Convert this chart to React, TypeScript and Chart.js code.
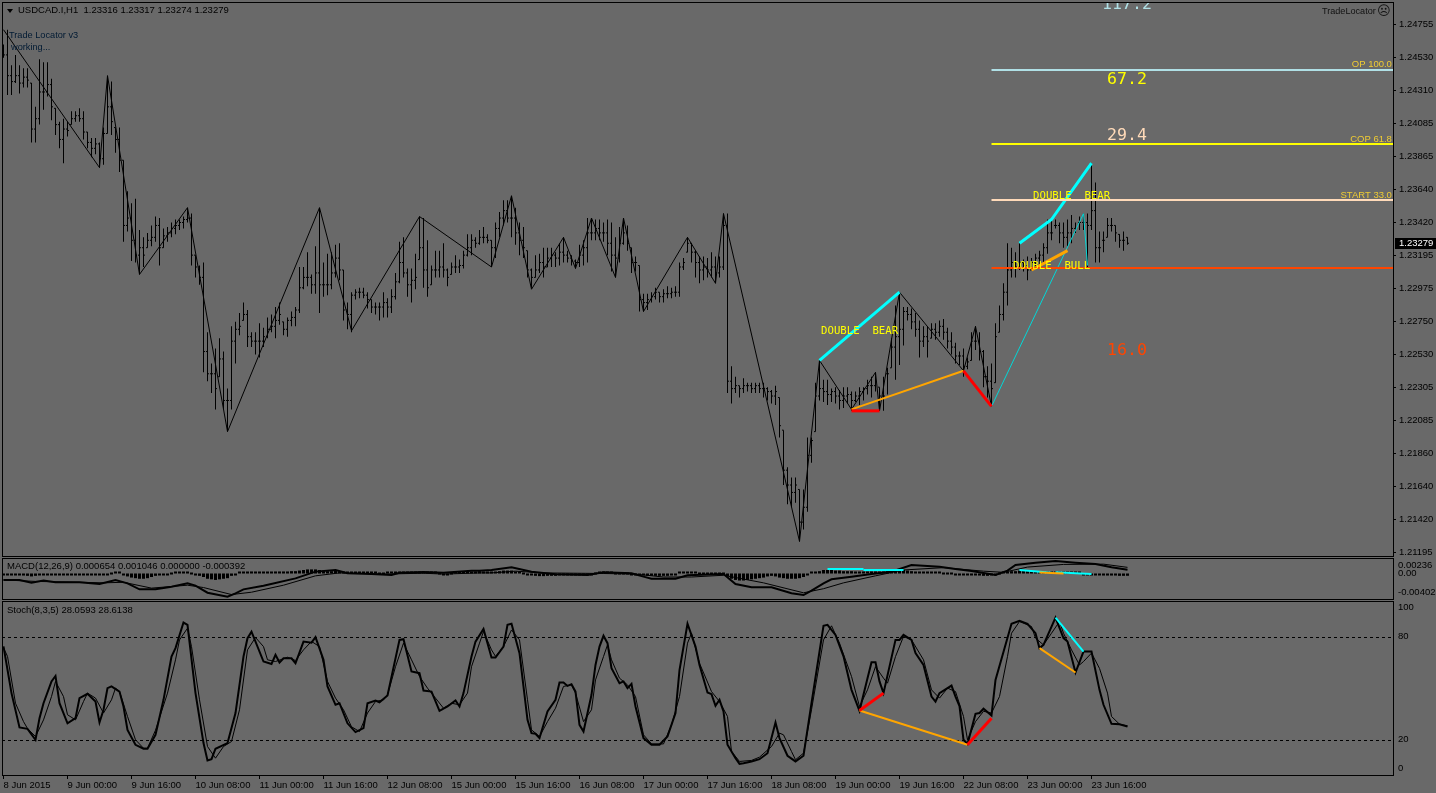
import React, { useEffect, useRef } from "react";
import { Chart, registerables } from "chart.js";

Chart.register(...registerables);

// ---------- price bars (values in pips above 1.2000) ----------
const barHigh = [
  462,472,448,455,448,446,446,436,420,452,
  450,450,439,419,410,412,410,417,417,419,
  417,403,399,399,396,406,441,437,406,406,
  384,363,355,358,337,332,335,340,346,345,
  338,339,342,344,344,346,352,348,320,313,
  315,268,247,257,264,255,230,272,275,281,
  288,283,268,268,274,271,278,280,285,288,
  275,278,282,285,312,312,322,307,326,352,
  315,321,322,327,328,310,288,295,297,298,
  298,295,290,288,288,295,291,297,308,329,
  332,311,311,321,346,345,330,313,323,323,
  328,311,315,320,317,323,334,334,332,337,
  339,334,330,342,349,357,357,360,352,342,
  339,323,311,320,321,325,325,325,322,328,
  332,323,320,317,327,330,345,345,344,344,
  342,344,342,332,339,345,340,325,319,313,
  294,294,295,298,295,297,299,298,299,315,
  318,332,328,323,319,319,318,322,319,319,
  348,348,245,238,232,237,234,234,234,234,
  234,231,229,232,224,202,177,170,170,162,
  162,197,197,234,249,236,236,230,231,229,
  231,231,228,228,231,231,236,238,241,231,
  238,244,264,286,295,285,285,284,281,276,
  272,272,274,274,276,277,271,268,261,255,
  257,251,268,272,268,256,245,247,274,286,
  301,328,325,322,328,317,319,318,321,323,
  328,344,344,344,342,342,344,347,342,346,
  348,348,382,369,336,336,345,345,340,334,336,332,
];
const barLow = [
  453,428,428,436,429,433,433,396,396,408,
  418,427,411,401,392,382,400,408,410,410,
  398,392,386,388,379,381,402,401,389,376,
  329,336,316,315,307,312,325,326,329,313,
  325,329,332,334,337,338,342,313,305,300,
  241,235,227,216,238,216,201,216,247,266,
  276,258,258,253,251,258,264,268,264,273,
  266,265,272,272,281,297,299,294,294,281,
  292,293,297,305,303,276,270,268,290,291,
  291,284,281,280,276,278,278,281,290,301,
  305,292,288,297,317,298,292,300,305,305,
  305,299,307,308,308,311,319,320,325,327,
  328,328,312,318,332,340,342,332,327,320,
  318,305,298,305,308,305,312,312,312,313,
  315,315,313,311,312,313,315,330,330,330,
  329,320,309,305,315,327,323,308,309,282,
  282,283,288,290,288,288,291,291,292,292,
  310,322,315,305,301,303,305,305,301,305,
  310,227,220,227,224,227,228,227,227,227,
  224,222,220,219,197,165,152,150,153,127,
  135,147,180,201,222,221,219,221,220,216,
  217,220,215,221,219,222,226,224,228,215,
  215,226,244,236,246,259,276,270,265,251,
  258,251,264,263,265,263,257,253,247,246,
  238,243,249,256,249,231,224,218,234,268,
  276,286,305,305,310,309,303,310,312,312,
  315,321,330,338,328,325,326,328,335,337,
  337,312,337,315,315,322,332,336,329,325,323,327,
];
const barOpen = [
  458,455,441,437,441,436,440,436,405,412,
  430,430,435,419,408,398,405,408,412,414,
  412,403,396,392,395,385,402,420,406,398,
  384,340,345,330,320,325,325,330,332,340,
  325,333,335,338,340,342,344,345,320,312,
  305,255,240,240,238,250,222,222,262,270,
  276,280,265,262,262,262,265,270,272,276,
  275,270,276,278,283,298,305,305,300,308,
  300,300,300,308,318,310,283,280,293,295,
  295,293,290,285,285,285,288,285,292,302,
  315,308,300,303,317,325,310,300,310,310,
  312,310,307,312,312,313,320,325,330,328,
  332,332,330,325,338,345,350,345,345,335,
  330,323,310,305,310,315,312,318,320,318,
  322,320,318,316,315,320,325,335,335,338,
  335,335,328,320,318,328,335,325,315,313,
  290,288,290,292,295,292,294,294,295,295,
  312,322,328,322,315,310,312,310,312,308,
  312,340,235,230,232,230,232,232,230,232,
  230,230,228,225,224,202,175,165,160,162,
  140,150,185,201,225,230,228,226,228,225,
  222,225,226,222,225,228,230,232,232,231,
  225,240,244,258,265,270,282,280,275,270,
  262,265,264,270,268,272,268,262,258,252,
  252,245,249,262,262,255,238,235,234,268,
  280,295,310,315,312,315,313,310,315,318,
  320,325,335,340,340,335,332,335,338,342,
  342,342,340,350,325,330,332,340,340,334,330,332,
];
const barClose = [
  455,441,437,441,436,440,438,405,412,430,
  430,435,420,408,398,405,404,412,414,412,
  403,396,392,395,385,402,420,410,398,384,
  340,345,330,320,325,320,330,332,340,325,
  333,335,338,340,342,344,345,320,312,305,
  255,240,240,230,250,222,222,262,270,272,
  280,265,262,262,262,265,270,272,276,280,
  270,276,278,283,298,305,305,300,308,300,
  300,300,308,318,310,283,280,293,295,295,
  293,290,285,285,285,288,285,292,302,315,
  308,300,303,305,325,310,298,310,310,312,
  310,305,312,312,313,320,325,330,328,332,
  332,330,325,338,345,350,345,345,335,330,
  325,310,305,310,315,312,318,320,318,322,
  320,318,316,315,320,325,335,335,338,335,
  335,328,320,318,328,335,328,315,315,290,
  288,290,292,295,292,294,294,295,295,312,
  315,328,322,315,310,312,310,312,308,312,
  340,235,230,232,230,232,232,230,232,230,
  230,228,225,228,205,175,165,160,165,140,
  150,185,195,225,230,228,226,228,225,222,
  225,226,222,225,228,230,232,232,235,225,
  225,240,258,265,270,282,280,275,270,262,
  265,262,270,268,272,268,262,258,252,252,
  245,248,262,262,255,238,235,230,265,280,
  295,310,315,312,315,313,310,315,318,320,
  325,335,335,340,335,332,335,338,338,342,
  342,340,350,325,325,330,340,340,335,330,330,328,
];

// ---------- zigzag and pattern lines (bar index / pips above 1.2000) ----------
const zigzagBars = [0,24,26,34,46,56,79,87,104,122,127,132,140,143,147,153,155,160,171,178,180,199,204,212,218,219,224,240,243,247];
const zigzagPips = [472,379,441,307,352,201,352,269,346,312,360,297,332,311,345,305,345,282,332,301,348,127,249,216,241,215,295,242,272,218];
const thinCyanBars = [247,270,271];
const thinCyanPips = [218,348,313];
const bearBars1 = [204,224];
const bearPips1 = [249,295];
const bearBars2 = [254,262,272];
const bearPips2 = [328,344,382];
const redBars1 = [212,219];
const redPips1 = [215,215];
const redBars2 = [240,247];
const redPips2 = [242,218];
const orangeBars1 = [212,240];
const orangePips1 = [216,242];
const orangeBars2 = [257,266];
const orangePips2 = [310,323];

// horizontal levels (prices)
const levelStartBar = 247;
const levelOp = 1.24448;
const levelCop = 1.23949;
const levelStart = 1.23572;
const levelStop = 1.23113;
const lastClose = 1.23279;

// ---------- MACD (values in thousandths) ----------
const macdBars = [0,4,7,10,13,19,24,28,31,34,38,42,46,48,51,56,58,60,65,73,78,83,86,92,97,99,105,110,117,119,122,127,132,138,146,150,157,160,162,168,171,180,183,187,192,197,200,202,205,207,212,217,222,227,234,238,242,248,251,253,258,263,268,273,277,281];
const macdMain = [-1.11,-1.11,-1.57,-1.22,-1.51,-1.51,-1.79,-1.11,-1.68,-2.71,-2.71,-2.25,-1.68,-2.08,-3.28,-3.96,-3.39,-2.71,-2.08,-0.83,0.32,0.6,0.03,-0.08,-0.26,0.14,0.26,0.14,0.49,0.49,0.6,1.06,0.31,-0.14,-0.26,0.2,0.03,-0.54,-0.88,-0.88,-0.31,-0.08,-1.79,-2.36,-2.36,-3.39,-3.68,-2.93,-1.68,-0.99,-0.54,-0.08,0.31,1.46,1.17,0.77,0.43,-0.26,0.49,1.46,1.85,2.14,1.85,1.63,1.06,0.65];
const signalBars = [0,8,19,25,30,37,46,50,57,62,70,78,84,95,105,110,119,122,128,135,150,158,165,172,180,190,200,205,210,218,225,235,245,250,256,265,275,281];
const macdSignal = [-1.1,-1.35,-1.5,-1.6,-1.5,-2.5,-2.0,-2.4,-3.6,-3.2,-2.0,-0.4,0.1,-0.1,0.05,-0.1,0.1,0.1,0.4,0.1,0,-0.1,-0.6,-0.6,-0.3,-1.6,-3.3,-2.6,-1.6,-0.4,0.6,1.0,0.4,0.2,1.1,1.55,1.6,1.05];
const macdHist = [
  -0.25,-0.25,-0.3,-0.3,-0.3,-0.35,-0.4,-0.5,-0.4,-0.3,
  -0.2,-0.25,-0.3,-0.3,-0.25,-0.2,-0.2,-0.2,-0.2,-0.2,
  -0.15,-0.15,-0.2,-0.2,-0.25,-0.15,-0.05,0,0.1,0.05,
  -0.2,-0.5,-0.7,-0.8,-0.9,-0.9,-0.8,-0.6,-0.4,-0.2,
  -0.2,-0.1,0,0.05,0.1,0.1,0.05,0,-0.1,-0.4,
  -0.6,-0.9,-1.0,-1.1,-1.0,-0.9,-0.8,-0.4,-0.1,0.1,
  0.3,0.3,0.35,0.3,0.3,0.3,0.3,0.3,0.35,0.35,
  0.35,0.35,0.4,0.4,0.5,0.6,0.7,0.7,0.7,0.6,
  0.5,0.4,0.4,0.5,0.4,0.2,0.1,0.05,0.1,0.1,
  0.1,0.05,0.05,0.05,0,0,0.05,0.05,0.1,0.2,
  0.3,0.25,0.2,0.2,0.3,0.3,0.2,0.1,0.05,0,
  -0.05,-0.05,0,0.05,0.05,0.15,0.25,0.3,0.35,0.4,
  0.35,0.3,0.3,0.3,0.4,0.5,0.5,0.5,0.3,0.1,
  0,-0.15,-0.3,-0.4,-0.45,-0.45,-0.4,-0.4,-0.4,-0.3,
  -0.3,-0.2,-0.2,-0.2,-0.2,-0.2,-0.2,-0.1,0,0.05,
  0.1,0.1,0.05,0,0,0,0,-0.05,-0.1,-0.2,
  -0.3,-0.4,-0.4,-0.4,-0.4,-0.4,-0.4,-0.3,-0.1,0.05,
  0.15,0.2,0.15,0.05,0,0,0,0,0,0,
  0,-0.5,-0.9,-1.1,-1.2,-1.2,-1.1,-1.0,-0.9,-0.8,
  -0.7,-0.5,-0.4,-0.5,-0.7,-0.8,-0.9,-0.9,-0.9,-0.8,
  -0.6,-0.2,0.1,0.3,0.4,0.6,0.6,0.6,0.5,0.5,
  0.4,0.4,0.4,0.3,0.3,0.3,0.3,0.35,0.35,0.3,
  0.3,0.4,0.5,0.5,0.6,0.6,0.5,0.4,0.3,0.3,
  0.2,0.1,0.1,0.05,0.05,0,0,0,-0.05,-0.1,
  -0.15,-0.25,-0.3,-0.3,-0.35,-0.4,-0.4,-0.3,-0.1,0,
  0.2,0.3,0.4,0.4,0.5,0.5,0.45,0.4,0.4,0.3,
  0.3,0.25,0.25,0.25,0.2,0.1,0.05,0.05,0.05,0.02,
  -0.02,-0.05,-0.1,-0.2,-0.3,-0.35,-0.35,-0.35,-0.35,-0.4,-0.4,-0.39,
];
const macdCyanBars1 = [206,215];
const macdCyanVals1 = [0.77,0.77];
const macdCyanBars2 = [215,225];
const macdCyanVals2 = [0.6,0.6];
const macdCyanBars3 = [254,262];
const macdCyanVals3 = [0.6,0.14];
const macdOrangeBars = [259,265];
const macdOrangeVals = [0.15,0];
const macdCyanBars4 = [263,272];
const macdCyanVals4 = [0.2,-0.1];

// ---------- Stochastic ----------
const stochKBars = [0,2,4,6,8,9,10,12,13,14,16,18,19,21,23,24,25,26,27,29,30,31,33,35,36,38,40,42,43,45,46,48,50,51,52,53,56,58,60,61,62,65,67,68,69,70,72,73,75,77,78,80,81,83,84,86,88,90,91,93,94,96,99,100,102,104,105,107,109,111,113,114,115,117,118,120,122,123,125,126,127,129,131,132,133,134,136,138,139,140,141,142,143,144,145,147,148,149,150,151,152,154,155,156,157,158,160,162,164,166,168,169,171,173,174,176,177,178,179,180,181,183,184,185,187,189,191,193,194,196,198,200,202,205,206,208,210,212,214,216,217,218,219,220,223,224,225,227,228,230,232,233,234,237,238,239,240,241,243,244,245,247,248,252,254,256,258,259,260,263,265,266,268,270,272,274,275,277,279,281];
const stochK = [74.8,47.6,27.6,26.8,20.4,33,41.7,54.4,57.6,41.7,30,33,44.7,47.2,42.7,30.5,37.9,50.5,51.5,48.5,39.8,26.2,17.5,15.2,15.2,23.3,43.7,68.9,73.8,88.7,87.4,47.6,18.5,8.4,9.1,15.2,18.5,36,68.9,79.6,83.4,66,64.6,69.9,65.4,67.9,67.9,65,77.6,77,80.2,67,51.5,40.8,41.7,30,24.9,27.2,41.7,43.3,42.3,46.2,78.6,79,60.2,59.2,49.1,48.5,37.3,39.8,43.3,39.8,47.6,68.9,77.6,85,68.3,68.3,74.7,87.4,88,70.9,32,24.3,23.9,21.4,36.9,43.7,53.8,53.8,51.8,52.8,48.5,29.1,25.2,46.6,64,74.7,81,76.7,62.1,53.4,54.4,50.5,53,39.8,21.4,17.5,17.5,22.4,36,61,88,74.7,64,48,47,40.2,43.7,36.9,17.5,9.7,6.4,6.8,7.8,9.1,12.6,30.5,21.4,11.1,7.8,11.1,41.7,86.8,87.4,81.5,69,49.5,37.3,56.3,65.6,65.6,54.4,47.6,78.6,78.6,81.5,78.6,70.9,64,45.6,42.7,47.6,52,45.6,40,20.4,18,35.5,36,38.5,34.6,55.3,88,89.7,88,82.5,73.8,75.7,91.6,79.6,77.7,59.6,71.8,71.8,49.5,40.8,29.7,29.5,28.1];
const stochDBars = [0,1,3,5,6,8,10,12,13,15,16,18,20,21,23,25,27,28,29,31,33,35,36,38,41,43,44,46,47,49,51,53,55,57,59,61,63,65,66,68,71,73,75,77,79,81,83,85,87,89,91,93,95,96,98,100,102,104,106,108,110,112,114,116,117,119,120,122,123,125,127,129,131,132,134,136,138,140,142,143,145,147,148,150,151,152,154,156,158,160,162,165,167,169,171,172,174,177,179,181,182,184,187,189,192,194,195,197,198,200,202,205,207,209,212,214,216,218,220,221,223,225,227,230,232,234,236,238,240,241,243,245,247,249,251,252,254,257,258,260,262,264,265,267,269,270,272,274,276,277,279,281];
const stochD = [74,69,41.7,31,27,22.3,32,45.6,54.4,45.6,35,32,42.7,47.6,44.7,36,43.7,50.5,48.5,34,20.4,15.5,15.5,26,47.6,67,78.6,85.4,74.7,43.7,16.5,9.7,16.5,19.4,37.9,72.8,80,74.7,67,66,68.5,66.6,72.8,77.7,74.7,54.4,44.7,37.9,28,25.2,36,42.7,43.7,46.6,63,76.7,67,57.3,50.5,44.7,38.8,41.7,40.8,47.6,63,76.7,83.5,72.8,69,74.7,84.4,78.6,43.7,26.2,22.3,31,38.8,51.5,52.4,47.6,31,37.9,55.3,68.9,75.7,67,56.3,52.4,45.6,23.3,18,18,29,45.6,76.7,82.5,65,48.5,42.7,34,13.6,7.8,8.4,10.3,16.5,24.3,23.3,13.6,8.8,12.6,37.9,78.6,86.8,76.7,57.3,39.8,49.5,63,56.3,53.4,68.9,80.6,78.6,67,49.5,44.7,50.5,48.5,34,20.4,31,37,36,45.6,69,82.5,89.3,86.4,79.6,75.7,82.5,89.3,82.5,72.8,64,66,70.9,62,47.6,34,29.5,28.6];
const stochLevels = [80,20];
const stochRedBars1 = [214,220];
const stochRedVals1 = [37.5,47.6];
const stochOrangeBars1 = [214,241];
const stochOrangeVals1 = [37.5,17.5];
const stochRedBars2 = [241,247];
const stochRedVals2 = [17.5,33];
const stochOrangeBars2 = [259,268];
const stochOrangeVals2 = [73.8,59.6];
const stochCyanBars = [263,270];
const stochCyanVals = [91.6,71.8];

// ---------- axes ----------
const priceTicks = [1.24755,1.2453,1.2431,1.24085,1.23865,1.2364,1.2342,1.23195,1.22975,1.2275,1.2253,1.22305,1.22085,1.2186,1.2164,1.2142,1.21195];
const macdTickValues = [1.33,0.03,-3.28];
const macdTickLabels = ["0.00236","0.00","-0.004023"];
const stochTickValues = [97.4,80.5,20.4,3.8];
const stochTickLabels = ["100","80","20","0"];
const timeTickBars = [0,16,32,48,64,80,96,112,128,144,160,176,192,208,224,240,256,272];
const timeTickLabels = ["8 Jun 2015","9 Jun 00:00","9 Jun 16:00","10 Jun 08:00","11 Jun 00:00","11 Jun 16:00","12 Jun 08:00","15 Jun 00:00","15 Jun 16:00","16 Jun 08:00","17 Jun 00:00","17 Jun 16:00","18 Jun 08:00","19 Jun 00:00","19 Jun 16:00","22 Jun 08:00","23 Jun 00:00","23 Jun 16:00"];

const X_MIN = -0.375;
const X_MAX = 347.375;
const GRAY = "#696969";
const UI_FONT = '"Liberation Sans"';
const MONO_FONT = '"DejaVu Sans Mono"';
const AXIS_FONT = { family: "Liberation Sans", size: 9.5 };

const toPrice = (p: number) => 1.2 + p / 10000;
const pts = (xs: number[], ys: number[]) => xs.map((x, i) => ({ x, y: ys[i] }));
const pricePts = (xs: number[], ys: number[]) => xs.map((x, i) => ({ x, y: toPrice(ys[i]) }));

const line = (data: any[], color: string, width: number, order: number, extra: any = {}) => ({
  type: "line", data, borderColor: color, borderWidth: width, pointRadius: 0, tension: 0, order, ...extra,
});

type Note = { text: string; x: number; y: number; font: string; color: string; align?: CanvasTextAlign; data?: boolean };

const paneDecor = (notes: Note[], extra?: (c: any) => void) => ({
  id: "paneDecor",
  afterDatasetsDraw(chart: any) {
    const { ctx, chartArea: a, scales } = chart;
    ctx.save();
    ctx.beginPath();
    ctx.rect(a.left, a.top, a.right - a.left, a.bottom - a.top);
    ctx.clip();
    ctx.textBaseline = "middle";
    notes.forEach((n) => {
      ctx.font = n.font;
      ctx.fillStyle = n.color;
      ctx.textAlign = n.align || "left";
      const px = n.data ? scales.x.getPixelForValue(n.x) : n.x;
      const py = n.data ? scales.y.getPixelForValue(n.y) : n.y;
      ctx.fillText(n.text, px, py);
    });
    ctx.restore();
    ctx.save();
    ctx.strokeStyle = "#000";
    ctx.lineWidth = 1;
    ctx.strokeRect(a.left + 0.5, a.top + 0.5, a.right - a.left, a.bottom - a.top);
    if (extra) extra(chart);
    ctx.restore();
  },
});

const xScale = (showLabels: boolean) => ({
  type: "linear",
  min: X_MIN,
  max: X_MAX,
  offset: false,
  display: showLabels,
  border: { display: false },
  grid: { drawOnChartArea: false, drawTicks: true, tickLength: 4, tickColor: "#000" },
  afterBuildTicks: (s: any) => { s.ticks = timeTickBars.map((value) => ({ value })); },
  afterFit: (s: any) => { s.height = showLabels ? 18 : 0; s.paddingLeft = 0; s.paddingRight = 0; },
  ticks: {
    autoSkip: false, maxRotation: 0, minRotation: 0, align: "start", padding: 1, color: "#000",
    font: AXIS_FONT,
    callback: (v: number) => timeTickLabels[timeTickBars.indexOf(v)],
  },
});

const yScale = (min: number, max: number, values: number[], labels: string[], marks: boolean) => ({
  type: "linear",
  position: "right",
  min, max,
  border: { display: false },
  grid: { drawOnChartArea: false, drawTicks: marks, tickLength: 3, tickColor: "#000" },
  afterBuildTicks: (s: any) => { s.ticks = values.map((value) => ({ value })); },
  afterFit: (s: any) => { s.width = 43; s.paddingTop = 0; s.paddingBottom = 0; },
  ticks: {
    autoSkip: false, padding: marks ? 3 : 5, color: "#000", font: AXIS_FONT,
    callback: (v: number) => labels[values.indexOf(v)],
  },
});

const baseOptions = (top: number, bottom: number, scales: any) => ({
  responsive: false,
  animation: false,
  devicePixelRatio: 1,
  events: [],
  layout: { autoPadding: false, padding: { left: 2, right: 0, top, bottom } },
  plugins: { legend: { display: false }, tooltip: { enabled: false }, title: { display: false } },
  scales,
});

function mainConfig() {
  const barIdx = barHigh.map((_, i) => i);
  const notes: Note[] = [
    { text: "USDCAD.I,H1  1.23316 1.23317 1.23274 1.23279", x: 18, y: 10.5, font: `9.5px ${UI_FONT}`, color: "#000" },
    { text: "Trade Locator v3", x: 9, y: 35.5, font: `9.2px ${UI_FONT}`, color: "#001a33" },
    { text: "working...", x: 11, y: 47.5, font: `9.2px ${UI_FONT}`, color: "#001a33" },
    { text: "TradeLocator", x: 1322, y: 11.5, font: `9.1px ${UI_FONT}`, color: "#111" },
    { text: "\u2639", x: 1377, y: 11.5, font: `13px "DejaVu Sans"`, color: "#111" },
    { text: "DOUBLE  BEAR", x: 204.4, y: toPrice(269), font: `10.67px ${MONO_FONT}`, color: "#ffff00", data: true },
    { text: "DOUBLE  BEAR", x: 257.4, y: toPrice(360), font: `10.67px ${MONO_FONT}`, color: "#ffff00", data: true },
    { text: "DOUBLE  BULL", x: 252.4, y: toPrice(312.7), font: `10.67px ${MONO_FONT}`, color: "#ffff00", data: true },
    { text: "117.2", x: 280.9, y: toPrice(488.6), font: `16.6px ${MONO_FONT}`, color: "#b0e0e6", align: "center", data: true },
    { text: "67.2", x: 280.9, y: toPrice(438), font: `16.6px ${MONO_FONT}`, color: "#ffff00", align: "center", data: true },
    { text: "29.4", x: 280.9, y: toPrice(400.3), font: `16.6px ${MONO_FONT}`, color: "#ffdab9", align: "center", data: true },
    { text: "16.0", x: 280.9, y: toPrice(255.4), font: `16.6px ${MONO_FONT}`, color: "#ff4500", align: "center", data: true },
    { text: "OP 100.0", x: 347.1, y: toPrice(448.9), font: `9.5px ${UI_FONT}`, color: "#f0cc33", align: "right", data: true },
    { text: "COP 61.8", x: 347.1, y: toPrice(398.3), font: `9.5px ${UI_FONT}`, color: "#f0cc33", align: "right", data: true },
    { text: "START 33.0", x: 347.1, y: toPrice(360.6), font: `9.5px ${UI_FONT}`, color: "#f0cc33", align: "right", data: true },
  ];
  const extra = (chart: any) => {
    const { ctx, scales } = chart;
    // small chart-menu triangle
    ctx.fillStyle = "#000";
    ctx.beginPath();
    ctx.moveTo(7, 9);
    ctx.lineTo(13, 9);
    ctx.lineTo(10, 13);
    ctx.closePath();
    ctx.fill();
    // last-price tag
    const py = Math.round(scales.y.getPixelForValue(lastClose));
    ctx.fillStyle = "#000";
    ctx.fillRect(1395, py - 5, 41, 11);
    ctx.fillStyle = "#fff";
    ctx.font = `9.5px ${UI_FONT}`;
    ctx.textBaseline = "middle";
    ctx.textAlign = "left";
    ctx.fillText(lastClose.toFixed(5), 1399, py + 0.5);
  };
  return {
    type: "bar",
    data: {
      datasets: [
        {
          type: "bar",
          data: barIdx.map((i) => ({ x: i, y: [toPrice(barLow[i]), toPrice(barHigh[i])] })),
          backgroundColor: "#000", borderWidth: 0, barThickness: 1, grouped: false, inflateAmount: 0, order: 50,
        },
        line(pricePts(barIdx, barOpen), "#000", 1, 49, { showLine: false, pointStyle: "dash", pointRadius: 1.5, pointRotation: 180, pointBorderWidth: 1, pointBorderColor: "#000" }),
        line(pricePts(barIdx, barClose), "#000", 1, 48, { showLine: false, pointStyle: "dash", pointRadius: 1.5, pointRotation: 0, pointBorderWidth: 1, pointBorderColor: "#000" }),
        line(pricePts(zigzagBars, zigzagPips), "#000", 1, 40),
        line(pricePts(thinCyanBars, thinCyanPips), "#00d8d8", 1, 30),
        line(pricePts(orangeBars1, orangePips1), "#ffa500", 2, 20),
        line(pricePts(orangeBars2, orangePips2), "#ffa500", 3, 20),
        line(pricePts(redBars1, redPips1), "#ff0000", 3, 19),
        line(pricePts(redBars2, redPips2), "#ff0000", 3, 19),
        line(pricePts(bearBars1, bearPips1), "#00ffff", 3, 18),
        line(pricePts(bearBars2, bearPips2), "#00ffff", 3, 18),
        line(pts([levelStartBar, X_MAX], [levelOp, levelOp]), "#b0e0e6", 2, 10),
        line(pts([levelStartBar, X_MAX], [levelCop, levelCop]), "#ffff00", 2, 10),
        line(pts([levelStartBar, X_MAX], [levelStart, levelStart]), "#ffdab9", 2, 10),
        line(pts([levelStartBar, X_MAX], [levelStop, levelStop]), "#ff4500", 2, 10),
      ],
    },
    options: baseOptions(2, 1, {
      x: xScale(false),
      y: yScale(1.211714, 1.249067, priceTicks, priceTicks.map((v) => v.toFixed(5)), true),
    }),
    plugins: [paneDecor(notes, extra)],
  };
}

function macdConfig() {
  const barIdx = macdHist.map((_, i) => i);
  const notes: Note[] = [
    { text: "MACD(12,26,9) 0.000654 0.001046 0.000000 -0.000392", x: 7, y: 9.5, font: `9.5px ${UI_FONT}`, color: "#000" },
  ];
  return {
    type: "bar",
    data: {
      datasets: [
        { type: "bar", data: pts(barIdx, macdHist), backgroundColor: "#000", borderWidth: 0, barThickness: 3, minBarLength: 2, grouped: false, inflateAmount: 0, order: 50 },
        line(pts(signalBars, macdSignal), "#000", 1, 41),
        line(pts(macdBars, macdMain), "#000", 2, 40),
        line(pts(macdCyanBars1, macdCyanVals1), "#00ffff", 2, 10),
        line(pts(macdCyanBars2, macdCyanVals2), "#00ffff", 2, 10),
        line(pts(macdCyanBars3, macdCyanVals3), "#00ffff", 2, 10),
        line(pts(macdCyanBars4, macdCyanVals4), "#00ffff", 2, 10),
        line(pts(macdOrangeBars, macdOrangeVals), "#ffa500", 2, 9),
      ],
    },
    options: baseOptions(1, 1, {
      x: xScale(false),
      y: yScale(-4.36, 2.65, macdTickValues, macdTickLabels, false),
    }),
    plugins: [paneDecor(notes)],
  };
}

function stochConfig() {
  const notes: Note[] = [
    { text: "Stoch(8,3,5) 28.0593 28.6138", x: 7, y: 10, font: `9.5px ${UI_FONT}`, color: "#000" },
  ];
  return {
    type: "line",
    data: {
      datasets: [
        ...stochLevels.map((lv) => line(pts([X_MIN, X_MAX], [lv, lv]), "#000", 1, 60, { borderDash: [3, 3] })),
        line(pts(stochDBars, stochD), "#000", 1, 41),
        line(pts(stochKBars, stochK), "#000", 2, 40),
        line(pts(stochOrangeBars1, stochOrangeVals1), "#ffa500", 2, 10),
        line(pts(stochOrangeBars2, stochOrangeVals2), "#ffa500", 2, 10),
        line(pts(stochRedBars1, stochRedVals1), "#ff0000", 3, 9),
        line(pts(stochRedBars2, stochRedVals2), "#ff0000", 3, 9),
        line(pts(stochCyanBars, stochCyanVals), "#00ffff", 2, 8),
      ],
    },
    options: baseOptions(1, 0, {
      x: xScale(true),
      y: yScale(-0.1, 101.26, stochTickValues, stochTickLabels, false),
    }),
    plugins: [paneDecor(notes)],
  };
}

const canvasStyle = (top: number, height: number): React.CSSProperties => ({
  position: "absolute", left: 0, top, width: 1436, height, display: "block",
});

export default function App() {
  const mainRef = useRef<HTMLCanvasElement>(null);
  const macdRef = useRef<HTMLCanvasElement>(null);
  const stochRef = useRef<HTMLCanvasElement>(null);

  useEffect(() => {
    document.body.style.margin = "0";
    document.body.style.background = GRAY;
    const charts = [
      new Chart(mainRef.current as any, mainConfig() as any),
      new Chart(macdRef.current as any, macdConfig() as any),
      new Chart(stochRef.current as any, stochConfig() as any),
    ];
    return () => charts.forEach((c) => c.destroy());
  }, []);

  return (
    <div style={{ position: "relative", width: 1436, height: 793, background: GRAY, overflow: "hidden" }}>
      <canvas ref={mainRef} width={1436} height={557} style={canvasStyle(0, 557)} />
      <canvas ref={macdRef} width={1436} height={43} style={canvasStyle(557, 43)} />
      <canvas ref={stochRef} width={1436} height={193} style={canvasStyle(600, 193)} />
    </div>
  );
}
